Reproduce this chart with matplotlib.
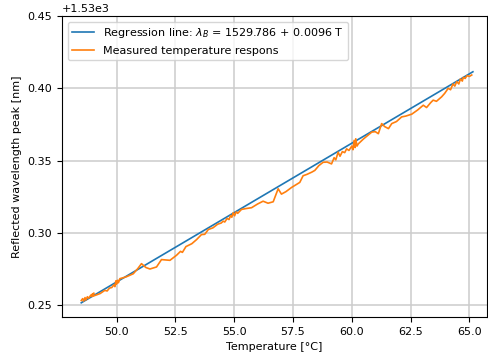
import numpy as np
import matplotlib
matplotlib.use('Agg')
import matplotlib.pyplot as plt
from matplotlib.ticker import MultipleLocator

# regression coefficients
intercept = 1529.786
slope = 0.0096
reg_T = [48.5, 65.15]

temp = [48.50, 48.56, 48.60, 48.66, 48.70, 48.76, 48.82, 48.90, 49.04, 48.95,
        49.10, 49.30, 49.50, 49.60, 49.70, 49.80, 49.88, 49.93, 49.97, 50.00,
        50.04, 50.08, 50.14, 50.40, 50.71, 50.90, 51.06, 51.25, 51.42, 51.70,
        51.91, 52.27, 52.55, 52.72, 52.80, 52.95, 53.20, 53.40, 53.61, 53.75,
        53.90, 54.10, 54.30, 54.45, 54.53, 54.60, 54.70, 54.78, 54.85, 54.90,
        54.96, 55.02, 55.08, 55.15, 55.31, 55.50, 55.74, 56.00, 56.23, 56.44,
        56.66, 56.87, 57.01, 57.20, 57.44, 57.60, 57.79, 57.93, 58.10, 58.30,
        58.43, 58.60, 58.78, 58.95, 59.14, 59.25, 59.32, 59.42, 59.50, 59.60,
        59.70, 59.78, 59.88, 60.00, 60.05, 60.10, 60.14, 60.17, 60.22, 60.28,
        60.50, 60.85, 61.00, 61.13, 61.27, 61.40, 61.56, 61.70, 61.90, 62.12,
        62.30, 62.55, 62.80, 63.04, 63.18, 63.35, 63.46, 63.60, 63.82, 63.95,
        64.10, 64.20, 64.30, 64.38, 64.46, 64.55, 64.62, 64.70, 64.74, 64.82,
        64.90, 65.00, 65.10]
peak = [0.2532, 0.2545, 0.2528, 0.2552, 0.2535, 0.2558, 0.2548, 0.2568, 0.2583, 0.2560,
        0.2568, 0.2580, 0.2602, 0.2598, 0.2618, 0.2622, 0.2640, 0.2628, 0.2668, 0.2645,
        0.2672, 0.2655, 0.2683, 0.2695, 0.2717, 0.2752, 0.2787, 0.2760, 0.2750, 0.2764,
        0.2815, 0.2810, 0.2845, 0.2872, 0.2865, 0.2905, 0.2925, 0.2953, 0.2988, 0.2990,
        0.3023, 0.3035, 0.3060, 0.3068, 0.3081, 0.3075, 0.3100, 0.3092, 0.3120, 0.3108,
        0.3139, 0.3118, 0.3145, 0.3135, 0.3162, 0.3168, 0.3174, 0.3200, 0.3219, 0.3205,
        0.3215, 0.3305, 0.3268, 0.3285, 0.3314, 0.3330, 0.3349, 0.3395, 0.3405, 0.3420,
        0.3432, 0.3465, 0.3488, 0.3490, 0.3477, 0.3520, 0.3505, 0.3558, 0.3530, 0.3562,
        0.3555, 0.3581, 0.3570, 0.3600, 0.3575, 0.3640, 0.3590, 0.3651, 0.3600, 0.3616,
        0.3650, 0.3697, 0.3700, 0.3686, 0.3756, 0.3735, 0.3721, 0.3756, 0.3770, 0.3802,
        0.3808, 0.3821, 0.3850, 0.3883, 0.3867, 0.3900, 0.3918, 0.3910, 0.3941, 0.3965,
        0.4000, 0.3990, 0.4030, 0.4015, 0.4046, 0.4030, 0.4065, 0.4050, 0.4076, 0.4068,
        0.4088, 0.4082, 0.4092]
base = 1530.0

plt.rcParams['font.size'] = 8

fig, ax = plt.subplots(figsize=(4.88, 3.56), dpi=100)
fig.subplots_adjust(left=0.127, right=0.998, top=0.955, bottom=0.11)

reg_T = np.array(reg_T)
ax.plot(reg_T, intercept + slope * reg_T, color='#1f77b4', lw=1.2,
        label=r'Regression line: $\lambda_B$ = 1529.786 + 0.0096 T')
ax.plot(temp, base + np.array(peak), color='#ff7f0e', lw=1.2,
        label='Measured temperature respons')

ax.set_xlim(47.68, 65.75)
ax.set_ylim(1530.2419, 1530.45)
ax.yaxis.set_major_locator(MultipleLocator(0.05))
ax.grid(True, color='#cccccc', lw=1.1)
ax.set_xlabel('Temperature [°C]')
ax.set_ylabel('Reflected wavelength peak [nm]')
ax.legend(loc='upper left')

fig.savefig('out.png', dpi=100)
